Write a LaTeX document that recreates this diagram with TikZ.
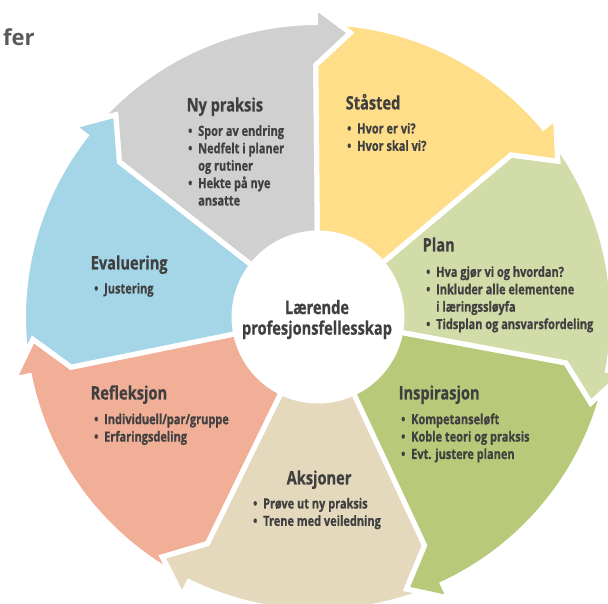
\documentclass[tikz,border=0pt]{standalone}
\usepackage{fontspec}
\setmainfont{Open Sans}
\newfontfamily\condfont{Open Sans}[FakeStretch=0.785, BoldFeatures={FakeBold=0.6}]
\usetikzlibrary{calc}
\definecolor{txt}{HTML}{404040}
\definecolor{titlegray}{HTML}{595959}
\definecolor{cgray}{HTML}{D0D0D0}
\definecolor{cyel}{HTML}{FFDE8A}
\definecolor{cplan}{HTML}{D1DCA9}
\definecolor{cinsp}{HTML}{B8CA79}
\definecolor{caks}{HTML}{E4D9BD}
\definecolor{cref}{HTML}{F0AF96}
\definecolor{ceva}{HTML}{A4D6E8}
\newcommand\mybul{\makebox[10pt][l]{•}}
\newcommand\myind{\hspace*{10pt}}
\def\segRi{84}
\def\segRo{294.5}
\def\segRb{310}
\def\segRt{286}
\def\segRn{252}
\begin{document}
\begin{tikzpicture}[x=1pt,y=1pt,
  hd/.style={anchor=base west, inner sep=0, font=\condfont\bfseries\fontsize{18.6}{18}\selectfont, text=txt},
  bl/.style={anchor=north west, inner sep=0, align=left, font=\condfont\bfseries\fontsize{14}{17.4}\selectfont, text=txt},
  segline/.style={line width=5, draw=white, line join=miter, miter limit=20}]
\useasboundingbox (0,0) rectangle (608,603);
\coordinate (C) at (318,286);
\begin{scope}[shift={(C)}]
\foreach \s/\e/\c in {90.5/40/cyel, 40/-10.5/cplan, -10.5/-65/cinsp, -65/-116/caks, -116/-168.5/cref, -168.5/-218/ceva, 142/90.5/cgray}{
  \fill[\c] (\s:\segRi) -- (\s:\segRn) -- ({\s-7}:\segRt) -- ({\s-4.24}:\segRo)
    arc[start angle={\s-4.24}, end angle=\e, radius=\segRo]
    -- (\e:\segRb) -- ({\e-7}:\segRt) -- (\e:\segRn) -- (\e:\segRi)
    arc[start angle=\e, end angle=\s, radius=\segRi] -- cycle;
}
\foreach \s/\e in {90.5/40, 40/-10.5, -10.5/-65, -65/-116, -116/-168.5, -168.5/-218, 142/90.5}{
  \draw[segline] (\s:\segRi) -- (\s:\segRn) -- ({\s-7}:\segRt) -- ({\s-4.24}:\segRo)
    arc[start angle={\s-4.24}, end angle=\e, radius=\segRo]
    -- (\e:\segRb) -- ({\e-7}:\segRt) -- (\e:\segRn) -- (\e:\segRi)
    arc[start angle=\e, end angle=\s, radius=\segRi] -- cycle;
}
\end{scope}
\node[circle, fill=white, minimum size=172, inner sep=0] (hub) at (C) {};
\node[anchor=north, inner sep=0, align=center, font=\condfont\bfseries\fontsize{18.6}{18}\selectfont, text=txt] (hubtext) at (317,303.3) {\strut Lærende\\profesjonsfellesskap};

\node[anchor=base west, inner sep=0, font=\bfseries\fontsize{22}{22}\selectfont, text=titlegray] (title) at (3,557) {fer};

\node[hd] (ny-h) at (186.5,491.5) {Ny praksis};
\node[bl] (ny-b) at (188,479.5) {\strut\mybul Spor av endring\\\mybul Nedfelt i planer\\\myind og rutiner\\\mybul Hekte på nye\\\myind ansatte};

\node[hd] (st-h) at (345.5,493.5) {Ståsted};
\node[bl] (st-b) at (347,481.9) {\strut\mybul Hvor er vi?\\\mybul Hvor skal vi?};

\node[hd] (pl-h) at (422.5,351.5) {Plan};
\node[bl] (pl-b) at (426,338.5) {\strut\mybul Hva gjør vi og hvordan?\\\mybul Inkluder alle elementene\\\myind i læringssløyfa\\\mybul Tidsplan og ansvarsfordeling};

\node[hd] (in-h) at (398.5,203.5) {Inspirasjon};
\node[bl] (in-b) at (401,191.2) {\strut\mybul Kompetanseløft\\\mybul Koble teori og praksis\\\mybul Evt. justere planen};

\node[hd] (ak-h) at (286.5,118.5) {Aksjoner};
\node[bl] (ak-b) at (253,106.9) {\strut\mybul Prøve ut ny praksis\\\mybul Trene med veiledning};

\node[hd] (re-h) at (90.5,203.5) {Refleksjon};
\node[bl] (re-b) at (94,191.2) {\strut\mybul Individuell/par/gruppe\\\mybul Erfaringsdeling};

\node[hd] (ev-h) at (90.5,333.5) {Evaluering};
\node[bl] (ev-b) at (94,321.9) {\strut\mybul Justering};
\end{tikzpicture}
\end{document}
